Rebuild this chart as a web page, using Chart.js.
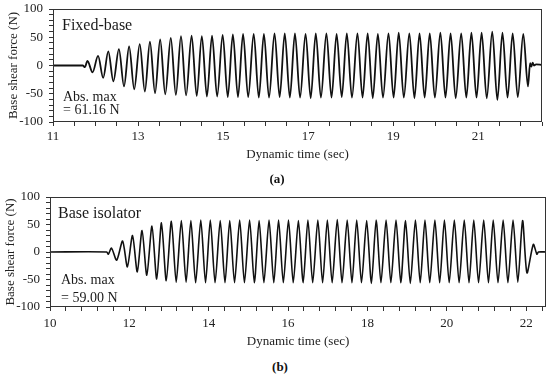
<!DOCTYPE html>
<html>
<head>
<meta charset="utf-8">
<script src="https://cdn.jsdelivr.net/npm/chart.js@4"></script>
<style>
  body { margin: 0; background: #fff; }
  #page { position: relative; width: 550px; height: 377px; font-family: "Liberation Serif", "Times New Roman", serif; color: #222; }
  .box { position: absolute; left: 0; width: 550px; }
  .note { position: absolute; white-space: nowrap; line-height: 1; color: #1a1a1a; }
  .cap { font-weight: bold; color: #111; }
</style>
</head>
<body>
<div id="page">
  <div class="box" style="top:0;height:162px"><canvas id="fixedChart"></canvas></div>
  <div class="box" style="top:185px;height:164px"><canvas id="isoChart"></canvas></div>

  <div class="note" style="left:62px;top:17px;font-size:16px">Fixed-base</div>
  <div class="note" style="left:63px;top:90px;font-size:14px">Abs. max</div>
  <div class="note" style="left:63px;top:103px;font-size:14px">= 61.16&nbsp;N</div>
  <div class="note cap" style="left:277px;top:172px;font-size:13px;transform:translateX(-50%)">(a)</div>

  <div class="note" style="left:58px;top:205px;font-size:16px">Base isolator</div>
  <div class="note" style="left:61px;top:273px;font-size:14px">Abs. max</div>
  <div class="note" style="left:61px;top:291px;font-size:14px">= 59.00&nbsp;N</div>
  <div class="note cap" style="left:280px;top:360px;font-size:13px;transform:translateX(-50%)">(b)</div>
</div>

<script>
// (a) Fixed-base: Werte (Zeit in s, Kraft in N)
const fixedLeadTime  = [11.00, 11.70, 11.75, 11.81, 11.93];
const fixedLeadForce = [0, 0, -3, 8, -12];
const fixedPeakTime = [12.06, 12.30, 12.55, 12.79, 13.04, 13.28, 13.52, 13.77, 14.01, 14.26,
  14.50, 14.74, 14.99, 15.23, 15.47, 15.72, 15.96, 16.21, 16.45, 16.69,
  16.94, 17.18, 17.43, 17.67, 17.91, 18.16, 18.40, 18.64, 18.89, 19.13,
  19.38, 19.62, 19.86, 20.11, 20.35, 20.60, 20.84, 21.08, 21.33, 21.57,
  21.81, 22.06];
const fixedPeakForce = [17, 25, 29, 34, 38, 42, 46, 49, 52, 53,
  52, 53, 54, 55, 56, 56, 56, 57, 57, 57,
  56, 57, 57, 56, 57, 57, 57, 56, 57, 58,
  57, 57, 57, 58, 57, 57, 58, 58, 60, 58,
  57, 56];
const fixedTroughTime = [12.18, 12.42, 12.67, 12.91, 13.16, 13.40, 13.64, 13.89, 14.13, 14.38,
  14.62, 14.86, 15.11, 15.35, 15.59, 15.84, 16.08, 16.33, 16.57, 16.81,
  17.06, 17.30, 17.55, 17.79, 18.03, 18.28, 18.52, 18.76, 19.01, 19.25,
  19.50, 19.74, 19.98, 20.23, 20.47, 20.72, 20.96, 21.20, 21.45, 21.69,
  21.93, 22.17];
const fixedTroughForce = [-22, -28, -37, -42, -46, -49, -51, -52, -53, -54,
  -55, -55, -56, -56, -56, -57, -57, -56, -57, -57,
  -58, -57, -57, -56, -57, -57, -58, -57, -57, -57,
  -58, -57, -57, -57, -58, -57, -57, -58, -61, -57,
  -56, -37];
const fixedTailTime  = [22.22, 22.25, 22.28, 22.31, 22.36, 22.50];
const fixedTailForce = [4, -2, 5, 0, 2, 1];

// (b) Base isolator
const isoLeadTime  = [10.00, 11.43, 11.47, 11.55, 11.68];
const isoLeadForce = [0, 0, -4, 7, -15];
const isoPeakTime = [11.83, 12.08, 12.32, 12.57, 12.81, 13.06, 13.31, 13.55, 13.80, 14.04,
  14.29, 14.53, 14.78, 15.03, 15.27, 15.52, 15.76, 16.01, 16.26, 16.50,
  16.75, 16.99, 17.24, 17.49, 17.73, 17.98, 18.22, 18.47, 18.72, 18.96,
  19.21, 19.45, 19.70, 19.94, 20.19, 20.44, 20.68, 20.93, 21.17, 21.42,
  21.67, 21.91];
const isoPeakForce = [20, 30, 39, 47, 53, 56, 57, 57, 58, 58,
  57, 57, 58, 58, 57, 58, 58, 58, 57, 58,
  58, 58, 59, 58, 58, 57, 58, 58, 58, 57,
  58, 58, 58, 58, 58, 58, 58, 58, 58, 58,
  58, 57];
const isoTroughTime = [11.95, 12.20, 12.44, 12.69, 12.93, 13.18, 13.43, 13.67, 13.92, 14.16,
  14.41, 14.65, 14.90, 15.15, 15.39, 15.64, 15.88, 16.13, 16.38, 16.62,
  16.87, 17.11, 17.36, 17.61, 17.85, 18.10, 18.34, 18.59, 18.84, 19.08,
  19.33, 19.57, 19.82, 20.06, 20.31, 20.56, 20.80, 21.05, 21.29, 21.54,
  21.79, 22.02];
const isoTroughForce = [-27, -36, -42, -49, -52, -55, -55, -56, -56, -56,
  -56, -56, -56, -56, -56, -56, -56, -56, -56, -56,
  -56, -56, -56, -56, -56, -57, -56, -56, -56, -57,
  -56, -56, -56, -56, -56, -56, -56, -56, -56, -56,
  -55, -38];
const isoTailTime  = [22.18, 22.27, 22.31, 22.50];
const isoTailForce = [14, -4, 0, 0];

const yTitle = 'Base shear force (N)';
const xTitle = 'Dynamic time (sec)';

function toPoints(times, forces) {
  return times.map((t, i) => ({ x: t, y: forces[i] }));
}

const fixedPoints = [].concat(
  toPoints(fixedLeadTime, fixedLeadForce),
  toPoints(fixedPeakTime, fixedPeakForce),
  toPoints(fixedTroughTime, fixedTroughForce),
  toPoints(fixedTailTime, fixedTailForce)
).sort((a, b) => a.x - b.x);

const isoPoints = [].concat(
  toPoints(isoLeadTime, isoLeadForce),
  toPoints(isoPeakTime, isoPeakForce),
  toPoints(isoTroughTime, isoTroughForce),
  toPoints(isoTailTime, isoTailForce)
).sort((a, b) => a.x - b.x);

// Rahmen um die Zeichenfläche
const framePlugin = {
  id: 'frame',
  afterDatasetsDraw(chart) {
    const { ctx, chartArea: a } = chart;
    ctx.save();
    ctx.strokeStyle = '#333';
    ctx.lineWidth = 1;
    ctx.strokeRect(a.left + 0.5, a.top + 0.5, a.width - 1, a.height - 1);
    ctx.restore();
  }
};

const font = { family: '"Liberation Serif", "Times New Roman", serif', size: 13 };

function makeChart(id, points, opt) {
  return new Chart(document.getElementById(id), {
    type: 'line',
    data: {
      datasets: [{
        data: points,
        borderColor: '#111',
        borderWidth: opt.lineWidth,
        pointRadius: 0,
        tension: opt.tension,
        cubicInterpolationMode: opt.mode
      }]
    },
    options: {
      responsive: true,
      maintainAspectRatio: false,
      animation: false,
      layout: { padding: { top: opt.padTop, right: opt.padRight, left: 0, bottom: 0 } },
      plugins: { legend: { display: false }, tooltip: { enabled: false } },
      scales: {
        x: {
          type: 'linear',
          min: opt.xMin,
          max: 22.5,
          border: { display: false },
          grid: { drawOnChartArea: false, drawTicks: true, tickLength: 4, color: '#333' },
          ticks: {
            stepSize: opt.xStep,
            autoSkip: false,
            includeBounds: false,
            maxRotation: 0,
            padding: opt.xPad,
            color: '#222',
            font: font,
            callback: opt.xLabel
          },
          title: { display: true, text: xTitle, color: '#222', font: font, padding: 0 },
          afterFit(scale) {
            scale.height = opt.xHeight;
            scale.paddingLeft = 0;
            scale.paddingRight = 0;
          }
        },
        y: {
          min: -100,
          max: 100,
          border: { display: false },
          grid: { drawOnChartArea: false, drawTicks: true, tickLength: 4, color: '#333' },
          ticks: {
            stepSize: 10,
            autoSkip: false,
            padding: 6,
            color: '#222',
            font: font,
            callback: v => (v % 50 === 0 ? String(v) : '')
          },
          title: { display: true, text: yTitle, color: '#222', font: font, padding: { top: opt.yTitlePad, bottom: 0 } },
          afterFit(scale) {
            scale.width = opt.yWidth;
            scale.paddingTop = 0;
            scale.paddingBottom = 0;
          }
        }
      }
    },
    plugins: [framePlugin]
  });
}

makeChart('fixedChart', fixedPoints, {
  xMin: 11, xStep: 0.5, xPad: 3, xHeight: 40,
  padTop: 9, padRight: 8, yWidth: 53, yTitlePad: 6,
  tension: 0.4, mode: 'monotone', lineWidth: 1.8,
  xLabel: v => {
    const r = Math.round(v);
    return Math.abs(v - r) < 1e-6 && r % 2 === 1 ? String(r) : '';
  }
});

makeChart('isoChart', isoPoints, {
  xMin: 10, xStep: 0.4, xPad: 5, xHeight: 42,
  padTop: 12, padRight: 4, yWidth: 50, yTitlePad: 3,
  tension: 0.25, mode: 'default', lineWidth: 1.6,
  xLabel: v => {
    const r = Math.round(v);
    return Math.abs(v - r) < 1e-6 && r % 2 === 0 ? String(r) : '';
  }
});
</script>
</body>
</html>
